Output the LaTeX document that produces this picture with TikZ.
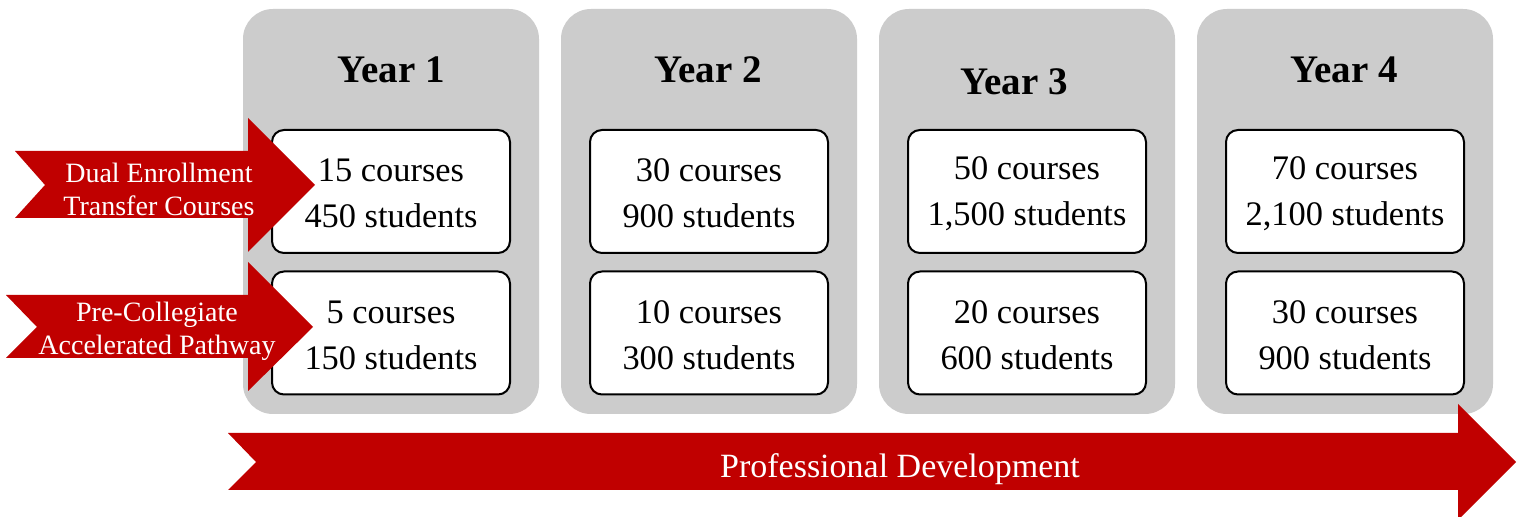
\documentclass[tikz,border=0pt]{standalone}
\usepackage{fontspec}
\setmainfont{Liberation Serif}
\definecolor{panelgray}{HTML}{CCCCCC}
\definecolor{bannerred}{HTML}{C00000}
\begin{document}
\begin{tikzpicture}[x=0.5pt,y=-0.5pt,
  panel/.style={fill=panelgray,draw=none,rounded corners=15pt,minimum width=148pt,minimum height=202.5pt,inner sep=0pt},
  cbox/.style={fill=white,draw=black,line width=1pt,rounded corners=6pt,minimum width=119pt,minimum height=61.5pt,inner sep=0pt},
  boxtext/.style={align=center,inner sep=0pt,font=\fontsize{17.2}{23}\selectfont},
  title/.style={font=\bfseries\fontsize{19.5}{23}\selectfont},
  banner/.style={fill=bannerred,draw=none},
  bannertext/.style={text=white,align=center,font=\fontsize{14}{16.5}\selectfont}]
\clip (0,0) rectangle (1525,517);
\fill[white] (0,0) rectangle (1525,517);
% panels
\node[panel] (p1) at (391,211.5) {};
\node[panel] (p2) at (709,211.5) {};
\node[panel] (p3) at (1027,211.5) {};
\node[panel] (p4) at (1345,211.5) {};
% titles
\node[title] (t1) at (391,70) {Year 1};
\node[title] (t2) at (708,70) {Year 2};
\node[title] (t3) at (1014,82) {Year 3};
\node[title] (t4) at (1344,70) {Year 4};
% boxes
\node[cbox] (a1) at (391,191.5) {};
\node[cbox] (b1) at (391,333) {};
\node[cbox] (a2) at (709,191.5) {};
\node[cbox] (b2) at (709,333) {};
\node[cbox] (a3) at (1027,191.5) {};
\node[cbox] (b3) at (1027,333) {};
\node[cbox] (a4) at (1345,191.5) {};
\node[cbox] (b4) at (1345,333) {};
\node[boxtext,yshift=-1pt] (a1t) at (a1.center) {15 courses\\450 students};
\node[boxtext,yshift=-1pt] (b1t) at (b1.center) {5 courses\\150 students};
\node[boxtext,yshift=-1pt] (a2t) at (a2.center) {30 courses\\900 students};
\node[boxtext,yshift=-1pt] (b2t) at (b2.center) {10 courses\\300 students};
\node[boxtext,yshift=-1pt] (a3t) at (a3.center) {50 courses\\1,500 students};
\node[boxtext,yshift=-1pt] (b3t) at (b3.center) {20 courses\\600 students};
\node[boxtext,yshift=-1pt] (a4t) at (a4.center) {70 courses\\2,100 students};
\node[boxtext,yshift=-1pt] (b4t) at (b4.center) {30 courses\\900 students};
% side banners
\fill[banner] (15,151) -- (248,151) -- (248,118) -- (315,185) -- (248,252) -- (248,218) -- (15,218) -- (45,185) -- cycle;
\node[bannertext] (d1) at (159,189) {Dual Enrollment\\Transfer Courses};
\fill[banner] (6,295) -- (248,295) -- (248,262) -- (313,327) -- (248,391) -- (248,358) -- (6,358) -- (37,327) -- cycle;
\node[bannertext] (d2) at (157,331) {Pre-Collegiate\\Accelerated Pathway};
% bottom banner
\fill[banner] (228,433) -- (1458,433) -- (1458,404) -- (1516,462) -- (1458,520) -- (1458,490) -- (228,490) -- (256,462) -- cycle;
\node[text=white,font=\fontsize{17}{20}\selectfont] (pd) at (900,469) {Professional Development};
\end{tikzpicture}
\end{document}
